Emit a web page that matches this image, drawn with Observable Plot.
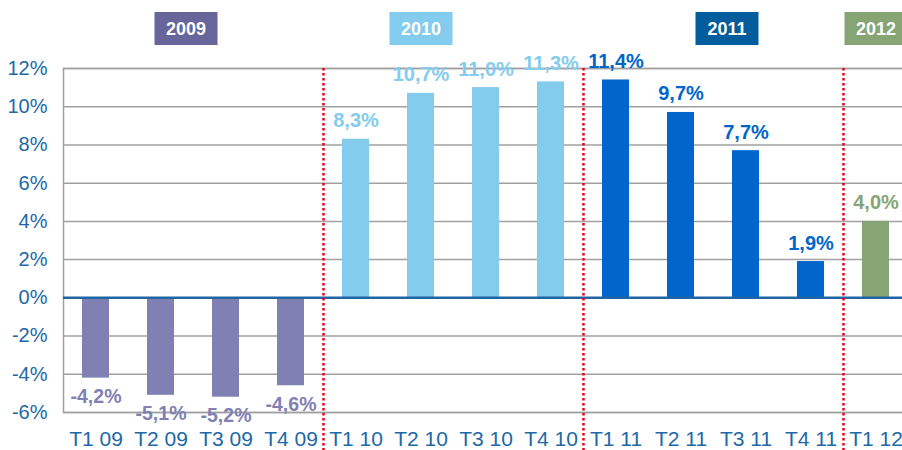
<!DOCTYPE html>
<html><head><meta charset="utf-8">
<script src="https://cdn.jsdelivr.net/npm/d3@7"></script>
<script src="https://cdn.jsdelivr.net/npm/@observablehq/plot@0.6"></script>
<style>body{margin:0;background:#fff;overflow:hidden}</style>
</head><body><div id="chart"></div>
<script>
const quarters = ["T1 09","T2 09","T3 09","T4 09","T1 10","T2 10","T3 10","T4 10","T1 11","T2 11","T3 11","T4 11","T1 12"];
const growth = [-4.2,-5.1,-5.2,-4.6,8.3,10.7,11.0,11.3,11.4,9.7,7.7,1.9,4.0];
const yearOf = ["2009","2009","2009","2009","2010","2010","2010","2010","2011","2011","2011","2011","2012"];
const years = ["2009","2010","2011","2012"];
const yearColors = ["#8080b2","#84ccee","#0066cc","#87a574"];
const yearBoxColors = ["#67659a","#84ccee","#035c9c","#87a574"];
const yearBoxAnchor = ["T2 09","T2 10","T2 11","T1 12"];
const dividers = ["T1 10","T1 11","T1 12"];
const yTicks = [-6,-4,-2,0,2,4,6,8,10,12];

const data = quarters.map((q,i)=>({q, v: growth[i], year: yearOf[i]}));
const fmt = v => v.toFixed(1).replace(".", ",") + "%";

const W = 902, H = 450, ML = 63, MR = -6, MT = 68, MB = 38;
const step = (W - ML - MR) / quarters.length;
const boxShift = [25, 0, 46, 0];
const axisColor = "#2068a8";

const boxMarks = years.flatMap((y,i)=>[
  Plot.ruleX([yearBoxAnchor[i]], {x: d=>d, dx: boxShift[i], stroke: yearBoxColors[i], strokeWidth: 63,
    insetTop: -(MT-12), insetBottom: (H-MB-MT) + (MT-45)}),
  Plot.text([yearBoxAnchor[i]], {x: d=>d, dx: boxShift[i], text: ()=>y, frameAnchor: "top", dy: -(MT-29),
    lineAnchor: "middle", fill: "white", fontWeight: "bold", fontSize: 18})
]);

const chart = Plot.plot({
  width: W, height: H,
  marginLeft: ML, marginRight: MR, marginTop: MT, marginBottom: MB,
  style: {fontFamily: "'Liberation Sans', Arial, sans-serif", background: "white"},
  x: {domain: quarters, padding: 0, axis: null},
  y: {domain: [-6, 12], axis: null},
  color: {domain: years, range: yearColors},
  marks: [
    Plot.gridY(yTicks, {stroke: "#a0a0a0", strokeOpacity: 1, strokeWidth: 1.5}),
    Plot.frame({stroke: "#a0a0a0", strokeWidth: 1.5}),
    Plot.barY(data, {x: "q", y: "v", fill: "year", insetLeft: 19, insetRight: 19}),
    Plot.ruleY([0], {stroke: "#1f65a3", strokeWidth: 2.5}),
    Plot.ruleX(dividers, {x: d=>d, dx: -step/2, stroke: "#e8001c", strokeWidth: 2.5, strokeDasharray: "2.5,2.5", insetBottom: -MB}),
    Plot.text(data.filter(d=>d.v>=0), {x: "q", y: "v", text: d=>fmt(d.v), fill: "year", lineAnchor: "bottom", dy: -12, fontWeight: "bold", fontSize: 20}),
    Plot.text(data.filter(d=>d.v<0), {x: "q", y: "v", text: d=>fmt(d.v), fill: "year", lineAnchor: "top", dy: 11, fontWeight: "bold", fontSize: 19.5}),
    ...boxMarks,
    Plot.axisY(yTicks, {tickFormat: d=>d+"%", tickSize: 0, tickPadding: 16, fontSize: 20, fill: axisColor, label: null}),
    Plot.axisX({tickSize: 0, tickPadding: 19, fontSize: 21, fill: axisColor, label: null})
  ]
});
document.getElementById("chart").appendChild(chart);
</script>
</body></html>
